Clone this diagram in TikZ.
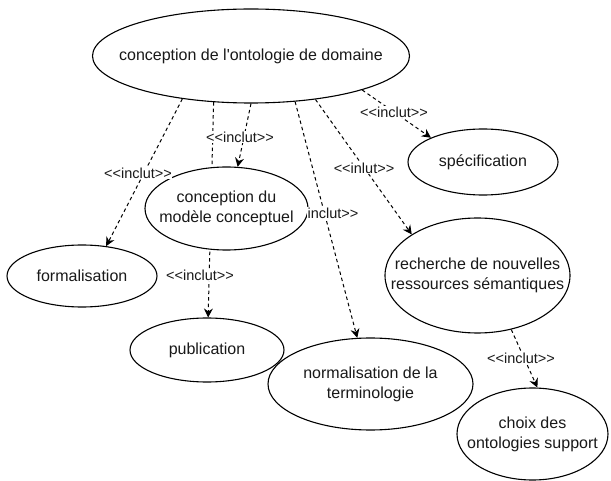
\documentclass[tikz,border=0pt]{standalone}
\usepackage{fontspec}
\setmainfont{Liberation Sans}[Ligatures=TeXOff]
\usetikzlibrary{shapes.geometric,arrows.meta,backgrounds}

\tikzset{
  uc/.style={ellipse, draw=black, line width=1.1pt, fill=white, inner sep=0pt},
  uctext/.style={font=\fontsize{16}{20}\selectfont, align=center, inner sep=0pt, text=black!90},
  incl/.style={draw=black, line width=1pt, dash pattern=on 3.5pt off 3pt,
    -{Stealth[length=9pt,width=9pt,inset=3pt]}},
  lbl/.style={font=\fontsize{14.5}{17}\selectfont, fill=white, inner sep=0.5pt, text=black!90}
}

\begin{document}
\begin{tikzpicture}[x=1pt,y=-1pt]
\useasboundingbox (0,0) rectangle (611,481);

% use cases
\node[uc, minimum width=317pt, minimum height=94pt] (main) at (251,56) {};
\node[uc, minimum width=150pt, minimum height=66pt] (spec) at (483,162) {};
\node[uc, minimum width=163pt, minimum height=83pt] (model) at (226.5,208.5) {};
\node[uc, minimum width=150pt, minimum height=62pt] (form) at (82,276) {};
\node[uc, minimum width=185pt, minimum height=115pt] (rech) at (477.5,275.5) {};
\node[uc, minimum width=154pt, minimum height=64pt] (pub) at (207,350) {};
\node[uc, minimum width=205pt, minimum height=92pt] (norm) at (370.5,384) {};
\node[uc, minimum width=151pt, minimum height=92pt] (choix) at (532.5,434) {};

\node[uctext] (main-t) at (main) {conception de l'ontologie de domaine};
\node[uctext] (spec-t) at (spec) {spécification};
\node[uctext] (model-t) at (model) {conception du\\modèle conceptuel};
\node[uctext] (form-t) at (form) {formalisation};
\node[uctext] (rech-t) at (rech) {recherche de nouvelles\\ressources sémantiques};
\node[uctext] (pub-t) at (pub) {publication};
\node[uctext] (norm-t) at (norm) {normalisation de la\\terminologie};
\node[uctext] (choix-t) at (choix) {choix des\\ontologies support};

% include relations, kept behind the use cases
\begin{pgfonlayer}{background}
  \draw[incl] (main.-17.5) -- (spec.155.6);
  \draw[incl] (main.-34.5) -- (rech.148.5);
  \draw[incl] (main.-46.8) -- (norm.106);
  \draw[incl] (main.-90) -- (model.75.2);
  \draw[incl] (main.-129) -- (pub.88);
  \draw[incl] (main.-148.3) -- (form.51.1);
  \draw[incl] (rech.-58.3) -- (choix.84.4);
\end{pgfonlayer}

% stereotype labels
\node[lbl] (l-spec) at (394,112) {<<inclut>>};
\node[lbl] (l-rech) at (364,168) {<<inlut>>};
\node[lbl] (l-norm) at (333,213) {inclut>>};
\node[lbl] (l-model) at (240,137) {<<inclut>>};
\node[lbl] (l-form) at (138,173) {<<inclut>>};
\node[lbl] (l-pub) at (200,275) {<<inclut>>};
\node[lbl] (l-choix) at (521,358) {<<inclut>>};
\end{tikzpicture}
\end{document}
